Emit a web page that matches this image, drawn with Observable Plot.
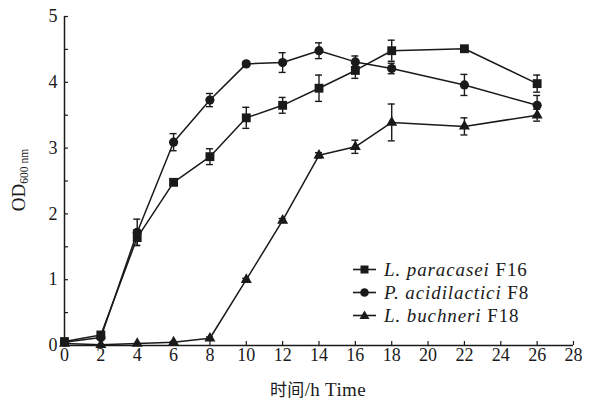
<!DOCTYPE html>
<html>
<head>
<meta charset="utf-8">
<script src="https://cdn.jsdelivr.net/npm/d3@7"></script>
<script src="https://cdn.jsdelivr.net/npm/@observablehq/plot@0.6"></script>
<style>
  html, body { margin: 0; padding: 0; background: #fff; }
  #wrap { position: relative; width: 589px; height: 400px; overflow: hidden; font-family: "Liberation Serif", "DejaVu Serif", serif; color: #1a1a1a; }
  #ylab { position: absolute; left: 19px; top: 180px; transform: translate(-50%, -50%) rotate(-90deg); font-size: 19px; line-height: 20px; white-space: nowrap; }
  #ylab sub { font-size: 11.5px; vertical-align: -3px; line-height: 0; }
  #xlab { position: absolute; left: 318px; top: 380px; height: 18px; transform: translateX(-50%); font-size: 19px; line-height: 18px; white-space: nowrap; letter-spacing: 0.4px; }
  #xlab .cjk { font-family: "Noto Sans CJK SC", sans-serif; font-size: 17px; line-height: 18px; }
  #legend { position: absolute; left: 353px; top: 258px; font-size: 19px; line-height: 23px; letter-spacing: 0.9px; }
  #legend .row { display: flex; align-items: center; height: 23px; white-space: nowrap; }
  #legend svg { margin-right: 8px; }
</style>
</head>
<body>
<div id="wrap"></div>
<script>
// ---- data ----
const time = [0, 2, 4, 6, 8, 10, 12, 14, 16, 18, 22, 26];
const seriesNames = ["L. paracasei F16", "P. acidilactici F8", "L. buchneri F18"];
const paracasei    = [0.06, 0.16, 1.64, 2.48, 2.87, 3.46, 3.65, 3.91, 4.18, 4.48, 4.51, 3.98];
const paracaseiErr = [0,    0.03, 0.12, 0.04, 0.12, 0.16, 0.12, 0.20, 0.12, 0.16, 0,    0.13];
const acidilactici    = [0.05, 0.12, 1.72, 3.09, 3.73, 4.28, 4.30, 4.48, 4.31, 4.21, 3.96, 3.65];
const acidilacticiErr = [0,    0.02, 0.20, 0.13, 0.10, 0.03, 0.15, 0.12, 0.09, 0.08, 0.16, 0.15];
const buchneri    = [0.03, 0.01, 0.03, 0.05, 0.11, 1.00, 1.90, 2.89, 3.02, 3.39, 3.33, 3.50];
const buchneriErr = [0,    0,    0,    0.01, 0.02, 0.02, 0.03, 0.04, 0.10, 0.28, 0.13, 0.09];
const xTicks = [0, 2, 4, 6, 8, 10, 12, 14, 16, 18, 20, 22, 24, 26, 28];
const yTicks = [0, 1, 2, 3, 4, 5];
const yMinorTicks = [0.5, 1.5, 2.5, 3.5, 4.5];
const symbols = ["square", "circle", "triangle"];

// ---- build rows ----
const values = [paracasei, acidilactici, buchneri];
const errs = [paracaseiErr, acidilacticiErr, buchneriErr];
const rows = [];
values.forEach((vals, s) => {
  vals.forEach((v, i) => rows.push({series: seriesNames[s], s, t: time[i], v, lo: v - errs[s][i], hi: v + errs[s][i], e: errs[s][i]}));
});
const errRows = rows.filter(d => d.e > 0);

const W = 589, H = 400, mL = 64, mR = 16, mT = 16, mB = 55;
const plotW = W - mL - mR, plotH = H - mT - mB;
const ink = "#1a1a1a";

const dotR = [5, 4.6, 4.1];

const chart = Plot.plot({
  width: W, height: H,
  marginLeft: mL, marginRight: mR, marginTop: mT, marginBottom: mB,
  x: {domain: [0, 28], axis: null},
  y: {domain: [0, 5], axis: null},
  style: {fontFamily: "Liberation Serif, DejaVu Serif, serif", fontSize: "18px", color: ink, background: "white", overflow: "visible"},
  marks: [
    // axes
    Plot.ruleY([0], {stroke: ink, strokeWidth: 1.5}),
    Plot.ruleX([0], {stroke: ink, strokeWidth: 1.5}),
    Plot.tickX(xTicks, {x: d => d, stroke: ink, strokeWidth: 1.2, insetTop: plotH - 4}),
    Plot.tickY(yTicks.concat(yMinorTicks), {y: d => d, stroke: ink, strokeWidth: 1.2, insetRight: plotW - 4}),
    Plot.text(xTicks, {x: d => d, frameAnchor: "bottom", dy: 15, text: d => String(d), fill: ink}),
    Plot.text(yTicks, {y: d => d, frameAnchor: "left", dx: -7, textAnchor: "end", text: d => String(d), fill: ink}),
    // lines
    Plot.line(rows, {x: "t", y: "v", z: "series", stroke: ink, strokeWidth: 1.5}),
    // error bars
    Plot.ruleX(errRows, {x: "t", y1: "lo", y2: "hi", stroke: ink, strokeWidth: 1.4}),
    Plot.ruleY(errRows, {y: "hi", x1: "t", x2: "t", insetLeft: -3.5, insetRight: -3.5, stroke: ink, strokeWidth: 1.4}),
    Plot.ruleY(errRows, {y: "lo", x1: "t", x2: "t", insetLeft: -3.5, insetRight: -3.5, stroke: ink, strokeWidth: 1.4}),
    // markers
    ...[0, 1, 2].map(s => Plot.dot(rows.filter(d => d.s === s), {x: "t", y: "v", symbol: symbols[s], r: dotR[s], fill: ink, stroke: "none"}))
  ]
});

const wrap = document.getElementById("wrap");
wrap.appendChild(chart);

const ylab = document.createElement("div");
ylab.id = "ylab";
ylab.innerHTML = "OD<sub>600 nm</sub>";
wrap.appendChild(ylab);

const xlab = document.createElement("div");
xlab.id = "xlab";
xlab.innerHTML = '<span class="cjk">时间</span>/h Time';
wrap.appendChild(xlab);

const legend = document.createElement("div");
legend.id = "legend";
const italicParts = ["L. paracasei", "P. acidilactici", "L. buchneri"];
const strainParts = ["F16", "F8", "F18"];
const sym = [
  '<rect x="7.5" y="2.5" width="8" height="8" fill="' + ink + '"/>',
  '<circle cx="11.5" cy="6.5" r="4.3" fill="' + ink + '"/>',
  '<path d="M11.5 1.5 L16.5 10 L6.5 10 Z" fill="' + ink + '"/>'
];
legend.innerHTML = [0, 1, 2].map(s =>
  '<div class="row"><svg width="23" height="13"><line x1="0" y1="6.5" x2="23" y2="6.5" stroke="' + ink + '" stroke-width="1.6"/>' + sym[s] +
  '</svg><span><i>' + italicParts[s] + '</i> ' + strainParts[s] + '</span></div>'
).join("");
wrap.appendChild(legend);
</script>
</body>
</html>
